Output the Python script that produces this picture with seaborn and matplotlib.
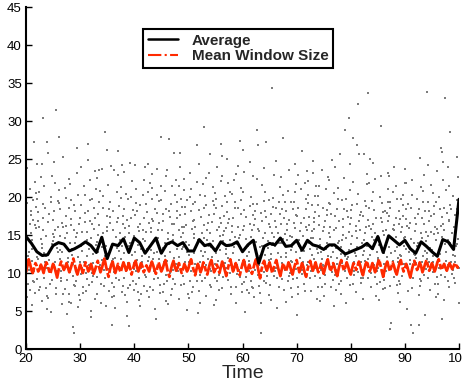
import numpy as np
import pandas as pd
import matplotlib
matplotlib.use("Agg")
import matplotlib.pyplot as plt
from matplotlib.lines import Line2D
import seaborn as sns

# ---- data -----------------------------------------------------------------
avg_time = list(range(20, 101))
avg_values = [14.8, 13.9, 12.8, 12.3, 12.4, 13.6, 14.0, 13.8, 12.9, 13.2,
              13.6, 14.1, 13.6, 12.7, 14.7, 11.9, 13.8, 13.6, 14.5, 12.7,
              14.6, 14.0, 12.6, 13.6, 14.6, 12.6, 13.8, 14.1, 13.6, 14.0,
              12.9, 12.9, 14.4, 13.6, 13.8, 12.9, 14.1, 13.6, 13.7, 14.1,
              12.8, 13.7, 14.3, 11.3, 13.5, 13.9, 13.7, 14.6, 13.5, 13.6,
              14.3, 13.0, 14.3, 13.7, 13.5, 13.1, 13.7, 13.7, 13.1, 12.5,
              12.8, 13.1, 13.4, 13.9, 13.2, 14.8, 12.7, 14.9, 14.3, 13.7,
              14.3, 13.2, 12.6, 14.1, 13.5, 12.8, 12.2, 14.4, 14.1, 13.1,
              19.7]

win_step = 0.25
win_values = [
    10.1, 10.9, 11.8, 11.2, 10.4, 10.0, 10.7, 11.3, 10.9, 10.2, 10.5, 11.1, 10.6, 10.0, 10.8, 11.4, 11.0, 10.3, 9.9, 10.6,
    11.2, 10.8, 10.1, 9.4, 10.3, 11.0, 11.5, 10.9, 10.4, 10.8, 11.3, 10.7, 10.1, 10.6, 11.2, 11.9, 11.1, 10.3, 9.8, 10.5,
    11.1, 10.6, 10.0, 10.7, 11.4, 10.9, 10.2, 10.5, 11.2, 10.6, 9.9, 10.4, 11.0, 11.6, 10.8, 10.1, 10.6, 11.3, 11.9, 11.0,
    10.2, 9.5, 10.4, 11.1, 11.5, 10.7, 10.0, 10.6, 11.2, 10.5, 10.1, 10.8, 11.4, 10.9, 10.3, 10.7, 11.3, 10.6, 9.8, 10.5,
    11.2, 11.6, 10.8, 10.2, 10.7, 11.3, 10.9, 10.1, 10.5, 11.0, 10.6, 10.2, 10.9, 11.5, 11.0, 10.4, 9.9, 10.7, 11.4, 10.8,
    10.2, 10.6, 11.2, 11.7, 10.9, 10.0, 9.5, 10.4, 11.1, 11.6, 10.8, 10.3, 10.7, 11.3, 10.6, 10.0, 10.5, 11.2, 10.8, 10.2,
    10.6, 11.3, 11.8, 11.0, 10.3, 9.7, 10.5, 11.2, 10.7, 10.1, 10.6, 11.4, 11.0, 10.2, 9.8, 10.6, 11.3, 11.7, 10.9, 10.1,
    10.5, 11.1, 10.6, 10.0, 10.8, 11.5, 11.0, 10.3, 9.6, 10.4, 11.2, 11.8, 11.0, 10.2, 10.7, 11.3, 10.8, 10.1, 9.7, 10.5,
    11.2, 11.7, 10.9, 10.2, 10.6, 11.1, 10.5, 9.9, 10.6, 11.3, 11.8, 11.0, 10.1, 9.3, 10.4, 11.2, 11.6, 10.8, 10.3, 10.9,
    11.4, 10.7, 10.0, 10.6, 11.2, 11.7, 10.9, 10.2, 9.6, 10.5, 11.3, 10.8, 10.2, 10.7, 11.4, 11.0, 10.3, 9.8, 10.6, 11.2,
    11.7, 10.9, 10.1, 10.6, 11.3, 10.8, 10.0, 9.5, 10.4, 11.1, 11.6, 10.9, 10.3, 10.8, 11.4, 10.7, 10.1, 10.5, 11.2, 10.6,
    9.9, 10.6, 11.3, 11.8, 11.0, 10.2, 10.7, 11.3, 10.8, 10.1, 9.6, 10.5, 11.2, 11.7, 10.9, 10.3, 10.8, 11.4, 10.9, 10.2,
    9.8, 10.6, 11.3, 11.0, 10.4, 10.9, 11.5, 11.0, 10.2, 9.7, 10.5, 11.2, 11.6, 10.8, 10.2, 10.7, 11.3, 10.7, 10.1, 10.6,
    11.3, 11.8, 11.0, 10.2, 9.5, 10.4, 11.1, 11.5, 10.8, 10.2, 10.8, 11.4, 10.9, 10.2, 9.8, 10.6, 11.3, 11.7, 10.9, 10.2,
    10.6, 11.2, 10.7, 10.0, 9.4, 10.3, 11.0, 11.6, 11.1, 10.4, 10.8, 11.4, 10.9, 10.1, 10.6, 11.2, 11.7, 11.0, 10.3, 10.7,
    11.3, 10.8, 10.2, 10.7, 11.4, 11.8, 11.1, 10.4, 10.8, 11.2, 10.7, 10.3, 10.8, 11.3, 10.9, 10.5, 10.9, 11.3, 11.0, 10.7,
    11.2]
win_time = [20 + win_step * i for i in range(len(win_values))]

# sample values (window sizes) per unit of time, starting at time 20
samples = [
    [14.8, 8.5, 19.2, 11.0, 23.8, 6.9, 16.5, 12.3, 21.0, 9.7, 17.6],
    [24.3, 10.2, 15.9, 7.4, 18.7, 13.1, 22.0, 9.0, 20.5, 5.8, 16.3, 27.3],
    [12.1, 18.0, 8.2, 24.4, 14.5, 6.3, 19.8, 10.9, 16.9, 22.6, 7.7],
    [30.4, 11.4, 17.3, 9.4, 21.5, 13.8, 5.2, 15.7, 19.1, 8.0, 12.6, 27.3],
    [9.1, 20.0, 14.2, 6.7, 17.8, 11.7, 22.8, 8.6, 15.1, 25.8, 4.9],
    [31.5, 16.0, 10.3, 19.5, 7.2, 13.3, 21.9, 9.8, 17.0, 12.8, 24.6],
    [27.9, 14.9, 8.9, 20.9, 11.8, 5.9, 18.4, 25.2, 13.0, 16.6, 9.3],
    [22.4, 10.7, 16.2, 7.9, 19.9, 13.6, 4.6, 21.2, 12.0, 17.5, 15.3],
    [2.9, 2.1, 12.4, 18.9, 9.6, 15.6, 6.0, 21.7, 11.2, 17.1, 8.4, 14.0],
    [26.5, 13.9, 9.0, 20.3, 16.4, 7.1, 23.1, 11.5, 18.2, 5.5, 14.7],
    [12.9, 19.0, 8.1, 24.0, 15.4, 10.6, 21.4, 6.4, 17.9, 13.5, 9.9],
    [27.0, 16.8, 11.1, 22.2, 7.6, 14.4, 19.6, 9.2, 13.2, 24.9, 5.0],
    [10.0, 18.5, 13.7, 6.6, 21.1, 15.8, 8.8, 23.4, 12.5, 17.2, 4.2],
    [23.6, 9.5, 15.0, 19.4, 7.3, 12.7, 22.5, 11.0, 17.7, 6.1, 14.1],
    [28.6, 26.2, 14.6, 10.4, 20.1, 8.3, 16.1, 23.7, 12.2, 18.6, 5.7],
    [3.1, 13.4, 8.7, 19.3, 11.6, 24.1, 15.5, 6.8, 21.6, 9.6, 17.4],
    [23.5, 12.0, 18.1, 7.0, 14.8, 20.7, 10.1, 16.7, 5.4, 22.9, 11.9],
    [26.1, 15.2, 9.1, 21.3, 12.9, 18.8, 7.5, 14.3, 24.2, 10.8, 16.4],
    [13.6, 20.4, 8.0, 17.0, 11.3, 23.3, 6.2, 15.9, 19.7, 9.4, 4.4],
    [3.0, 14.0, 22.1, 10.5, 18.3, 7.8, 16.2, 12.4, 24.5, 9.0, 20.0],
    [24.2, 11.7, 17.6, 8.5, 21.0, 14.9, 6.5, 19.2, 12.8, 16.0, 10.2],
    [22.3, 15.7, 9.7, 19.0, 13.1, 7.2, 17.3, 11.4, 24.0, 5.6, 14.5],
    [24.4, 10.9, 16.6, 8.2, 20.6, 12.1, 18.0, 6.9, 14.2, 21.8, 9.5],
    [13.0, 19.8, 7.7, 15.4, 23.0, 10.3, 17.1, 5.3, 21.2, 12.6, 16.8],
    [27.9, 4.0, 14.6, 20.2, 9.3, 17.9, 11.8, 23.7, 7.4, 15.6, 19.5],
    [12.3, 18.4, 8.6, 22.7, 14.0, 6.3, 16.9, 10.7, 20.8, 13.3, 9.8],
    [27.6, 23.6, 15.3, 10.0, 19.1, 7.1, 13.8, 21.4, 11.6, 17.4, 5.9],
    [25.8, 14.4, 20.3, 9.2, 16.5, 12.0, 22.2, 7.9, 18.1, 10.4, 15.0],
    [25.8, 13.2, 8.4, 18.7, 11.0, 21.5, 16.1, 6.6, 14.8, 23.9, 9.6],
    [22.4, 16.3, 10.6, 19.6, 7.3, 14.1, 20.9, 12.7, 17.8, 5.1, 15.2],
    [21.1, 13.7, 9.0, 18.2, 11.5, 23.2, 6.7, 15.8, 20.0, 8.1, 12.4],
    [26.8, 24.4, 15.1, 10.1, 19.4, 13.6, 7.6, 17.0, 22.0, 11.2, 4.7],
    [29.2, 12.2, 18.6, 8.9, 16.3, 21.7, 10.8, 14.6, 6.0, 20.3, 13.9],
    [22.5, 14.3, 9.4, 19.0, 11.9, 17.6, 7.0, 23.1, 15.7, 10.5, 12.8],
    [25.6, 16.7, 10.3, 21.3, 13.4, 8.2, 18.9, 12.1, 5.8, 15.3, 20.5],
    [22.1, 11.6, 17.2, 7.8, 14.9, 19.8, 9.7, 24.0, 13.0, 6.4, 16.0],
    [27.0, 25.4, 15.5, 10.7, 20.1, 12.5, 8.0, 17.5, 22.8, 11.3, 14.2],
    [25.0, 13.5, 18.0, 9.1, 21.9, 15.9, 7.2, 12.0, 19.3, 10.0, 16.6],
    [23.0, 14.7, 9.9, 20.4, 12.6, 17.3, 6.1, 22.3, 11.1, 15.4, 18.5],
    [27.4, 12.9, 19.6, 8.6, 15.0, 21.2, 10.4, 17.7, 13.8, 7.5, 24.1],
    [26.2, 16.2, 11.4, 20.7, 8.8, 14.5, 23.3, 12.3, 18.3, 9.5, 4.9],
    [22.7, 13.6, 18.8, 10.2, 16.4, 7.4, 20.0, 12.8, 15.6, 24.6, 9.0],
    [28.8, 26.8, 14.1, 9.8, 19.1, 11.7, 17.1, 6.8, 22.4, 13.1, 15.8],
    [2.1, 8.3, 12.2, 16.9, 10.1, 14.6, 6.0, 19.5, 11.0, 21.6, 13.4],
    [27.2, 15.2, 10.9, 20.6, 8.7, 17.4, 13.3, 23.8, 7.1, 18.2, 12.4],
    [34.3, 14.8, 19.9, 9.6, 16.1, 11.8, 22.9, 6.5, 18.7, 13.7, 10.3],
    [24.7, 12.6, 17.8, 8.2, 21.3, 15.3, 10.6, 19.4, 5.4, 14.0, 16.8],
    [27.7, 16.5, 11.3, 20.2, 13.9, 9.2, 22.6, 7.7, 18.4, 15.1, 12.1],
    [23.5, 13.0, 18.1, 8.9, 15.7, 20.8, 11.6, 6.2, 17.0, 14.4, 10.0],
    [21.7, 15.9, 10.5, 19.3, 12.7, 24.3, 8.0, 17.6, 14.7, 6.9, 20.6],
    [22.9, 14.3, 9.3, 18.6, 12.0, 16.6, 7.3, 21.0, 13.5, 10.8, 4.5],
    [26.1, 17.2, 11.5, 21.8, 14.9, 8.5, 19.7, 12.9, 16.0, 9.9, 23.4],
    [24.8, 13.1, 18.9, 10.2, 15.5, 22.1, 7.6, 17.4, 12.4, 20.3, 14.6],
    [23.2, 15.8, 10.7, 19.0, 13.2, 8.1, 16.7, 21.5, 11.9, 6.6, 18.0],
    [21.4, 12.8, 17.5, 9.4, 14.5, 20.1, 11.1, 6.3, 16.3, 23.6, 13.7],
    [22.6, 14.0, 19.2, 10.9, 16.9, 8.6, 12.3, 21.0, 15.2, 7.0, 18.3],
    [24.9, 15.6, 11.0, 20.5, 13.6, 9.1, 17.8, 12.7, 22.2, 5.7, 16.1],
    [23.9, 13.3, 18.4, 9.7, 15.9, 21.2, 10.4, 14.2, 7.8, 19.8, 12.0],
    [28.8, 25.7, 14.4, 9.0, 19.6, 12.5, 17.1, 7.2, 22.5, 11.3, 15.0],
    [30.4, 16.4, 10.8, 20.9, 13.0, 8.4, 18.2, 6.0, 15.4, 11.9, 24.3],
    [27.7, 13.8, 19.0, 9.8, 16.2, 12.6, 22.0, 7.5, 17.3, 10.3, 14.9],
    [32.3, 26.9, 25.6, 14.6, 20.4, 10.1, 17.6, 12.2, 8.7, 19.1, 13.4],
    [25.6, 16.0, 11.6, 21.7, 13.9, 9.3, 18.8, 6.6, 15.3, 12.9, 23.0],
    [33.7, 25.0, 14.7, 10.0, 19.5, 12.4, 17.0, 8.2, 21.9, 15.8, 11.2],
    [22.4, 13.1, 18.3, 9.5, 16.5, 11.0, 20.7, 7.0, 14.4, 12.7, 24.5],
    [29.3, 15.5, 10.6, 20.0, 13.7, 8.8, 18.0, 11.8, 22.8, 6.4, 16.7],
    [23.1, 14.1, 19.4, 10.2, 16.9, 12.1, 7.9, 21.1, 15.0, 9.1, 17.9],
    [2.6, 3.4, 13.4, 18.5, 10.9, 15.8, 8.3, 20.6, 12.6, 16.3, 22.7],
    [24.0, 14.8, 10.4, 19.8, 12.9, 17.2, 7.4, 21.4, 11.5, 15.6, 9.0],
    [21.9, 16.1, 11.2, 18.9, 13.6, 8.6, 20.2, 12.3, 14.6, 6.2, 17.5],
    [23.7, 13.2, 19.1, 9.6, 15.9, 11.7, 21.8, 7.6, 17.1, 12.8, 5.2],
    [3.1, 2.1, 14.5, 20.3, 10.7, 16.6, 12.4, 8.0, 18.6, 13.9, 22.2],
    [25.1, 3.1, 15.2, 11.3, 19.7, 13.5, 9.2, 17.8, 21.3, 12.0, 7.1],
    [22.9, 14.2, 18.2, 10.5, 16.4, 4.5, 20.8, 12.9, 8.9, 15.4, 11.4],
    [33.8, 24.2, 16.8, 11.9, 19.3, 13.3, 9.4, 21.6, 14.9, 7.7, 18.1],
    [23.4, 13.0, 17.7, 10.1, 15.1, 20.5, 8.5, 12.2, 6.8, 18.8, 14.3],
    [26.5, 25.9, 12.5, 17.4, 9.7, 14.7, 20.0, 7.3, 16.2, 11.6, 4.0],
    [33.0, 24.6, 15.7, 20.9, 11.1, 17.9, 13.8, 9.0, 22.3, 12.7, 6.5],
    [28.5, 16.9, 11.4, 21.5, 14.0, 19.0, 9.9, 23.9, 13.1, 8.1, 17.0],
    [25.3, 14.5, 19.6, 10.6, 16.0, 12.3, 22.6, 8.7, 18.4, 13.6, 6.1],
]
samples_extra = [
    [10.4, 15.3, 7.8, 18.1, 12.7], [11.6, 17.0, 8.8, 14.3, 19.6],
    [13.3, 9.2, 16.0, 11.9, 20.7], [14.9, 10.6, 18.5, 7.0, 12.2],
    [12.9, 16.7, 10.5, 19.3, 13.8], [11.5, 14.7, 8.0, 18.2, 15.6],
    [10.2, 16.0, 12.7, 7.3, 19.2], [14.6, 9.1, 18.6, 11.4, 6.2],
    [13.1, 10.1, 16.3, 19.6, 7.3], [12.1, 17.3, 8.3, 15.2, 10.7],
    [14.1, 11.5, 16.7, 7.4, 20.2], [12.2, 18.1, 10.0, 15.4, 8.4],
    [14.6, 11.3, 19.7, 9.6, 16.5], [13.4, 16.3, 10.2, 20.8, 8.5],
    [11.7, 15.2, 9.3, 17.5, 13.6], [12.5, 16.6, 10.5, 7.6, 18.4],
    [13.3, 9.4, 17.2, 15.6, 8.2], [11.8, 17.5, 13.6, 8.3, 19.9],
    [12.6, 14.8, 10.3, 18.4, 7.1], [11.3, 15.2, 13.3, 8.4, 17.2],
    [13.7, 9.4, 18.2, 15.5, 7.5], [12.3, 16.5, 10.6, 20.3, 8.3],
    [13.2, 15.4, 11.6, 19.1, 7.6], [11.8, 14.3, 9.2, 18.4, 15.9],
    [12.7, 16.6, 10.6, 8.4, 21.4], [11.5, 15.6, 17.8, 7.5, 19.6],
    [12.7, 16.4, 9.0, 18.2, 14.5], [13.2, 11.2, 17.3, 8.6, 19.3],
    [12.1, 17.6, 10.2, 15.7, 19.8], [13.4, 11.5, 8.6, 18.7, 16.0],
    [14.6, 10.3, 16.9, 7.5, 19.1], [12.6, 16.0, 8.9, 18.3, 14.4],
    [11.5, 15.3, 9.8, 17.4, 12.9], [13.5, 16.6, 8.4, 20.1, 11.1],
    [14.2, 11.2, 17.8, 9.3, 19.5], [12.6, 15.7, 10.8, 18.6, 8.9],
    [13.2, 16.6, 9.5, 18.8, 15.0], [14.4, 11.1, 17.1, 8.2, 20.6],
    [13.4, 16.2, 10.8, 19.3, 8.2], [11.7, 16.1, 9.5, 18.6, 14.6],
    [13.3, 10.4, 17.4, 7.7, 15.6], [11.6, 14.7, 17.6, 8.1, 19.1],
    [12.6, 16.3, 10.4, 18.2, 8.0], [13.6, 9.0, 15.5, 17.9, 7.4],
    [11.7, 14.2, 16.5, 9.6, 19.6], [12.5, 15.2, 8.4, 17.7, 14.0],
    [13.5, 11.4, 18.6, 9.3, 16.1], [12.6, 14.5, 10.4, 17.3, 19.4],
    [12.1, 16.5, 9.6, 19.3, 14.9], [11.4, 16.6, 13.4, 9.2, 18.4],
    [12.9, 15.5, 10.4, 17.5, 8.2], [13.6, 11.0, 18.4, 15.6, 7.6],
    [11.5, 16.3, 9.4, 19.2, 13.9], [12.6, 14.6, 9.6, 17.2, 20.1],
    [11.8, 15.5, 10.4, 18.5, 8.2], [13.1, 16.1, 9.7, 17.6, 11.6],
    [12.1, 14.7, 10.1, 19.1, 8.1], [11.2, 16.8, 13.9, 8.6, 17.5],
    [13.4, 16.1, 10.3, 18.4, 12.2], [12.1, 14.6, 9.4, 17.4, 19.7],
    [11.4, 15.5, 18.3, 8.6, 12.9], [11.5, 15.6, 9.4, 16.8, 18.0],
    [12.4, 14.3, 10.4, 17.5, 19.5], [13.5, 16.2, 9.3, 18.5, 11.9],
    [12.0, 15.2, 10.3, 17.3, 8.6], [11.6, 14.6, 17.2, 9.5, 19.2],
    [12.6, 15.6, 11.2, 18.2, 8.0], [11.6, 14.5, 9.5, 17.5, 19.3],
    [13.4, 16.4, 12.0, 18.2, 8.4], [12.4, 15.4, 9.6, 17.1, 19.8],
    [11.2, 14.8, 10.6, 18.4, 16.2], [12.5, 15.5, 9.4, 17.3, 11.4],
    [14.0, 16.5, 10.5, 18.4, 8.3], [12.3, 14.6, 9.8, 17.3, 19.3],
    [11.5, 15.4, 10.5, 17.5, 12.6], [11.4, 16.1, 9.5, 19.3, 15.8],
    [13.2, 15.2, 10.6, 18.4, 8.6], [11.6, 14.3, 16.5, 9.5, 18.6],
    [12.4, 15.2, 10.4, 18.4, 20.1], [11.5, 16.2, 9.4, 17.6, 13.8],
]
# irregular placement of samples inside each unit of time
slot_offsets = [0.07, 0.61, 0.33, 0.88, 0.19, 0.72, 0.46, 0.95, 0.12,
                0.54, 0.27, 0.81, 0.40, 0.66, 0.03, 0.91, 0.23]
sample_start = 20

# ---- build tables ---------------------------------------------------------
sx, sy = [], []
for i, (col, extra) in enumerate(zip(samples, samples_extra)):
    merged = []
    for k in range(max(len(col), len(extra))):
        if k < len(col):
            merged.append(col[k])
        if k < len(extra):
            merged.append(extra[k])
    shift = (i * 7) % len(slot_offsets)
    for j, v in enumerate(merged):
        off = slot_offsets[(j + shift) % len(slot_offsets)]
        sx.append(sample_start + i + off)
        sy.append(v)
scatter_df = pd.DataFrame({"Time": sx, "Value": sy})
avg_df = pd.DataFrame({"Time": avg_time, "Value": avg_values})
win_df = pd.DataFrame({"Time": win_time, "Value": win_values})

# ---- plot -----------------------------------------------------------------
sns.set_style("white")
plt.rcParams["font.family"] = ["Liberation Sans", "DejaVu Sans"]

fig = plt.figure(figsize=(4.62, 3.85), dpi=100)
ax = fig.add_axes([0.0563, 0.0935, 0.9372, 0.8883])

red = "#ff2a00"
sns.scatterplot(data=scatter_df, x="Time", y="Value", ax=ax, color="#7c7c7c",
                s=3, marker="s", linewidth=0, legend=False, zorder=1)
sns.lineplot(data=avg_df, x="Time", y="Value", ax=ax, color="black",
             linewidth=2.2, legend=False, zorder=3)
sns.lineplot(data=win_df, x="Time", y="Value", ax=ax, color=red,
             linewidth=2.0, linestyle=(0, (12, 0.8, 2, 0.8)), legend=False,
             zorder=2)

ax.set_xlim(20, 100)
ax.set_ylim(0, 45)
ax.set_xticks(range(20, 101, 10))
ax.set_yticks(range(0, 46, 5))
ax.set_xlabel("Time", fontsize=14, labelpad=0)
ax.set_ylabel("")
ax.tick_params(direction="in", length=4, width=1, labelsize=9.5, pad=3,
               colors="black", bottom=True, left=True)
for side in ["top", "right"]:
    ax.spines[side].set_visible(False)
for side in ["left", "bottom"]:
    ax.spines[side].set_color("black")
    ax.spines[side].set_linewidth(1.5)

handles = [Line2D([], [], color="black", linewidth=1.8, linestyle="-"),
           Line2D([], [], color=red, linewidth=1.5, linestyle="-.")]
leg = ax.legend(handles, ["Average", "Mean Window Size"],
                loc="upper left", bbox_to_anchor=(0.27, 0.935),
                prop={"weight": "bold", "size": 11}, frameon=True,
                fancybox=False, handlelength=2.0, borderpad=0.3,
                labelspacing=0.1, handletextpad=0.9, borderaxespad=0)
leg.get_frame().set_edgecolor("black")
leg.get_frame().set_linewidth(1.5)
leg.get_frame().set_alpha(1)

fig.savefig("out.png", dpi=100)
